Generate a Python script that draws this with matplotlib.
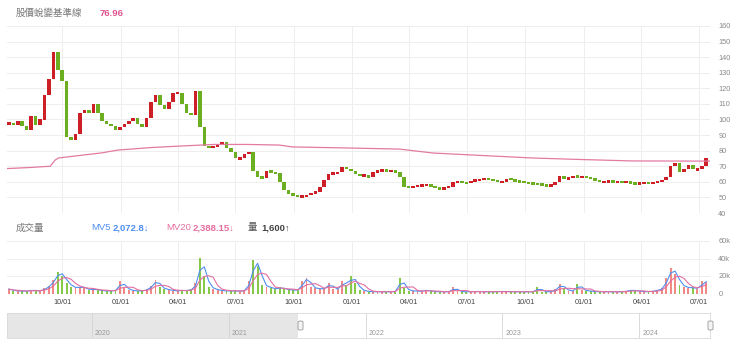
import matplotlib.pyplot as plt
import matplotlib.dates as mdates
from matplotlib.patches import FancyBboxPatch
import numpy as np
import pandas as pd

plt.rcParams['font.family'] = ['Liberation Sans', 'Noto Sans CJK TC', 'DejaVu Sans']

# weekly candles, Jul 2021 - Jul 2024
week_dates = pd.date_range('2021-07-09', '2024-07-12', freq='W-FRI')
first_open = 97
closes = [
    98, 96.5, 99, 96, 93, 102, 96.5, 100, 116, 126,
    143, 132, 125, 89, 87, 91, 104, 106, 104, 110,
    104, 99, 97, 96, 93, 95, 97, 99, 101, 97,
    95, 101, 111, 116, 109, 107, 111, 117, 117, 110,
    104, 103, 118, 95, 83, 82, 82.5, 84, 85.5, 82,
    79, 75, 75, 78, 79, 67, 63, 62.5, 67, 66,
    65.6, 60, 54.5, 52.5, 51.5, 50.5, 50.5, 51.5, 53, 53.5,
    57, 61, 65, 65.6, 66, 69.5, 68, 67, 65, 64,
    64, 63, 66, 67, 67.6, 67, 67, 66, 63, 57,
    56.5, 57, 57.5, 58, 58, 57, 56.5, 55, 56.5, 57,
    60, 60, 59.5, 59, 60.5, 61, 61.5, 62, 61.5, 61,
    60, 60, 62, 61.5, 60.5, 60, 59.5, 59, 58.6, 58.5,
    58, 57.3, 58, 60, 64, 62, 62.5, 63.7, 63, 63.5,
    63, 62, 61, 60, 60, 60.5, 60, 60, 59.5, 60,
    59, 58.6, 59, 59.5, 59.3, 59.5, 60, 61, 63, 70,
    72, 66, 68, 71, 68, 68, 70, 75,
]
# volume in thousands of shares
volumes = [
    5, 3, 3, 2.5, 3, 4, 3, 3, 6, 9,
    16, 25, 20, 12, 8, 6, 8, 6, 4, 5,
    4, 3, 3, 3, 4, 14, 7, 4, 3, 3,
    3, 5, 9, 16, 7, 5, 4, 3, 3, 4,
    3, 5, 12, 41, 20, 8, 5, 4, 3, 3,
    3, 3, 2.5, 4, 14, 38, 31, 10, 8, 6,
    5, 7, 5, 4, 4, 4, 14, 18, 7, 6,
    5, 6, 12, 5, 5, 14, 10, 20, 12, 4,
    3, 2, 2, 2, 2, 2, 2, 2.5, 18, 6,
    3, 3, 2.5, 3, 4, 2.5, 2, 2, 2, 2,
    7, 2.5, 2, 2, 2, 2.5, 2, 2, 2, 2,
    2.5, 2, 2.5, 2, 2, 2, 2, 2, 2, 7,
    2, 2, 2, 5, 11, 5, 3, 3, 11, 4,
    3, 2.5, 2, 2, 2, 2, 2, 2, 2, 3,
    4, 3, 2.5, 2, 2, 3, 4, 6, 18, 29,
    22, 10, 8, 6, 7, 5, 14, 13,
]

base_dates = ['2021-07-06', '2021-08-11', '2021-09-12', '2021-09-20', '2021-09-25',
              '2021-10-30', '2021-12-01', '2021-12-28', '2022-02-18', '2022-04-07',
              '2022-05-29', '2022-07-19', '2022-09-08', '2022-09-29', '2022-12-28',
              '2023-03-17', '2023-05-08', '2023-07-20', '2023-10-12', '2023-12-30',
              '2024-03-18', '2024-07-18']
base_vals = [68.5, 69.2, 70, 74, 75.3, 77, 78.5, 80.4, 82, 83,
             84, 84, 83.6, 82.4, 81.7, 81, 78.5, 77, 75.3, 74.3,
             73.4, 73.3]

tick_dates = ['2021-10-01', '2022-01-01', '2022-04-01', '2022-07-01', '2022-10-01',
              '2023-01-01', '2023-04-01', '2023-07-01', '2023-10-01', '2024-01-01',
              '2024-04-01', '2024-07-01']
tick_labels = [d[5:7] + '/' + d[8:10] for d in tick_dates]
years = [2020, 2021, 2022, 2023, 2024]

RED = '#cc1f26'
GREEN = '#6cae22'
VRED = '#f08a86'
VGREEN = '#86c94a'
GRID = '#eeeeee'

x = mdates.date2num(week_dates)
c = np.array(closes, dtype=float)
o = np.array([first_open] + closes[:-1], dtype=float)
up = c >= o
vol = pd.Series(volumes, dtype=float)
mv5 = vol.rolling(2, min_periods=1).mean()
mv20 = vol.rolling(4, min_periods=1).mean()

x0 = mdates.date2num(pd.Timestamp('2021-07-06'))
x1 = mdates.date2num(pd.Timestamp('2024-07-18'))
ticks = mdates.date2num(pd.to_datetime(tick_dates))

fig = plt.figure(figsize=(7.4, 3.57), dpi=100)
W, H = 740, 357


def box(l, t, r, b):
    return [l / W, 1 - b / H, (r - l) / W, (b - t) / H]


# price panel
ax = fig.add_axes(box(7, 26, 710, 213))
body = np.maximum(np.abs(c - o), 1.6)
mid = (c + o) / 2
low = mid - body / 2
ax.bar(x[up], body[up], bottom=low[up], width=5.6, color=RED, linewidth=0)
ax.bar(x[~up], body[~up], bottom=low[~up], width=5.6, color=GREEN, linewidth=0)
ax.plot(mdates.date2num(pd.to_datetime(base_dates)), base_vals, color='#e27aa2', lw=0.9)
ax.set_xlim(x0, x1)
ax.set_ylim(40, 160)
ax.set_yticks(range(40, 161, 10))
ax.set_xticks(ticks)
ax.set_xticklabels([])
ax.yaxis.tick_right()
ax.tick_params(axis='y', length=0, pad=6, labelsize=5.3, labelcolor='#888888')
ax.tick_params(axis='x', length=0)
ax.grid(True, color=GRID, lw=0.7)
ax.set_axisbelow(True)
for s in ax.spines.values():
    s.set_visible(False)

# volume panel
vax = fig.add_axes(box(7, 241, 710, 293.5))
vcol = np.where(up, VRED, VGREEN)
vax.bar(x, volumes, width=3.0, color=vcol, linewidth=0)
vax.plot(x, mv5, color='#4f8ff0', lw=0.8)
vax.plot(x, mv20, color='#e46f9f', lw=0.8)
vax.set_xlim(x0, x1)
vax.set_ylim(0, 60)
vax.set_yticks([0, 20, 40, 60])
vax.set_yticklabels(['0', '20k', '40k', '60k'])
vax.yaxis.tick_right()
vax.set_xticks(ticks)
vax.set_xticklabels(tick_labels)
vax.tick_params(axis='y', length=0, pad=6, labelsize=5.3, labelcolor='#888888')
vax.tick_params(axis='x', length=0, pad=4, labelsize=5.2, labelcolor='#444444')
vax.grid(True, color=GRID, lw=0.7)
vax.set_axisbelow(True)
for s in vax.spines.values():
    s.set_visible(False)

# navigator
nav = fig.add_axes(box(7, 313, 710, 338))
n0 = mdates.date2num(pd.Timestamp('2019-05-20'))
n1 = mdates.date2num(pd.Timestamp('2024-07-08'))
sel = mdates.date2num(pd.Timestamp('2021-07-05'))
nav.set_xlim(n0, n1)
nav.set_ylim(0, 1)
nav.axvspan(n0, sel, color='#e6e6e6', lw=0)
for yr in years:
    yx = mdates.date2num(pd.Timestamp(f'{yr}-01-01'))
    nav.axvline(yx, color='#d4d4d4', lw=0.6)
    nav.text(yx + 8, 0.12, str(yr), fontsize=5, color='#999999')
nav.set_xticks([])
nav.set_yticks([])
for s in nav.spines.values():
    s.set_color('#d9d9d9')
    s.set_linewidth(0.6)

# navigator handles (pixel sized)
for hx in (298, 708):
    fig.add_artist(FancyBboxPatch((hx / W, 1 - 330 / H), 5 / W, 9 / H,
                                  boxstyle='round,pad=0,rounding_size=0.003',
                                  transform=fig.transFigure,
                                  facecolor='#f4f4f4', edgecolor='#999999',
                                  lw=0.6, zorder=5))

# header texts
fig.text(16 / W, 1 - 13 / H, '股價蛻變基準線', fontsize=6.8, color='#777777', va='center')
fig.text(100 / W, 1 - 13 / H, '76.96', fontsize=6.8, color='#e0508f', va='center',
         fontweight='bold')
fig.text(16 / W, 1 - 228 / H, '成交量', fontsize=6.8, color='#777777', va='center')
fig.text(91 / W, 1 - 228 / H, 'MV5', fontsize=6.8, color='#4f8ff0', va='center')
fig.text(113 / W, 1 - 228 / H, '2,072.8↓', fontsize=6.8, color='#4f8ff0', va='center',
         fontweight='bold')
fig.text(166 / W, 1 - 228 / H, 'MV20', fontsize=6.8, color='#e46f9f', va='center')
fig.text(193 / W, 1 - 228 / H, '2,388.15↓', fontsize=6.8, color='#e46f9f', va='center',
         fontweight='bold')
fig.text(248 / W, 1 - 228 / H, '量', fontsize=6.8, color='#555555', va='center')
fig.text(261 / W, 1 - 228 / H, '1,600↑', fontsize=6.8, color='#444444', va='center',
         fontweight='bold')

fig.savefig('out.png', dpi=100)
